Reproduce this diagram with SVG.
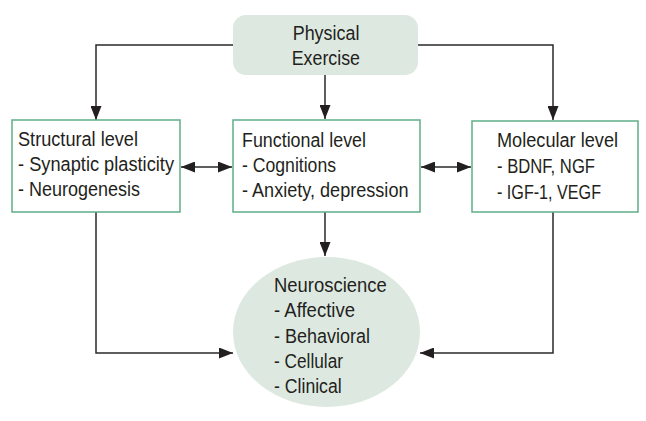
<svg xmlns="http://www.w3.org/2000/svg" width="646" height="421" viewBox="0 0 646 421">
<defs>
<marker id="ah" viewBox="0 0 14 11" refX="14" refY="5.5" markerWidth="14" markerHeight="11" markerUnits="userSpaceOnUse" orient="auto-start-reverse">
<path d="M0,0 L14,5.5 L0,11 z" fill="#231f20"/>
</marker>
<style>
text{font-family:"Liberation Sans Narrow","Liberation Sans",Arial,sans-serif;font-size:20px;fill:#231f20}
.box{fill:#fff;stroke:#5fae88;stroke-width:1.5}
.soft{fill:#dde9e0;stroke:none}
.c{fill:none;stroke:#2a2a2a;stroke-width:1.5}
</style>
</defs>
<rect width="646" height="421" fill="#fff"/>
<g id="connectors">
<path class="c" d="M233,45 H96 V120" marker-end="url(#ah)"/>
<path class="c" d="M418,45 H553 V120" marker-end="url(#ah)"/>
<path class="c" d="M325,75 V119" marker-end="url(#ah)"/>
<path class="c" d="M181,167 H232" marker-start="url(#ah)" marker-end="url(#ah)"/>
<path class="c" d="M421,167 H471" marker-start="url(#ah)" marker-end="url(#ah)"/>
<path class="c" d="M325,212 V256" marker-end="url(#ah)"/>
<path class="c" d="M96,212 V353 H233" marker-end="url(#ah)"/>
<path class="c" d="M553,212 V353 H420" marker-end="url(#ah)"/>
</g>
<g id="physical">
<rect class="soft" x="233" y="15" width="185" height="60" rx="13"/>
<text x="292.7" y="40" textLength="66.7" lengthAdjust="spacingAndGlyphs">Physical</text>
<text x="291.7" y="65" textLength="68.3" lengthAdjust="spacingAndGlyphs">Exercise</text>
</g>
<g id="structural">
<rect class="box" x="12" y="120" width="168" height="92"/>
<text x="18" y="146" textLength="120" lengthAdjust="spacingAndGlyphs">Structural level</text>
<text x="18" y="171" textLength="156" lengthAdjust="spacingAndGlyphs">- Synaptic plasticity</text>
<text x="18" y="196" textLength="122" lengthAdjust="spacingAndGlyphs">- Neurogenesis</text>
</g>
<g id="functional">
<rect class="box" x="233" y="120" width="187" height="92"/>
<text x="242" y="147" textLength="124" lengthAdjust="spacingAndGlyphs">Functional level</text>
<text x="242" y="172" textLength="94" lengthAdjust="spacingAndGlyphs">- Cognitions</text>
<text x="242" y="197" textLength="166.5" lengthAdjust="spacingAndGlyphs">- Anxiety, depression</text>
</g>
<g id="molecular">
<rect class="box" x="472" y="121" width="166" height="91"/>
<text x="497" y="147" textLength="121" lengthAdjust="spacingAndGlyphs">Molecular level</text>
<text x="497" y="173" textLength="98" lengthAdjust="spacingAndGlyphs">- BDNF, NGF</text>
<text x="497" y="199" textLength="104" lengthAdjust="spacingAndGlyphs">- IGF-1, VEGF</text>
</g>
<g id="neuroscience">
<ellipse class="soft" cx="326.5" cy="332" rx="93.5" ry="75"/>
<text x="274" y="292" textLength="112.7" lengthAdjust="spacingAndGlyphs">Neuroscience</text>
<text x="274" y="317" textLength="81" lengthAdjust="spacingAndGlyphs">- Affective</text>
<text x="274" y="343" textLength="96" lengthAdjust="spacingAndGlyphs">- Behavioral</text>
<text x="274" y="368" textLength="69" lengthAdjust="spacingAndGlyphs">- Cellular</text>
<text x="274" y="393" textLength="67.7" lengthAdjust="spacingAndGlyphs">- Clinical</text>
</g>
</svg>
